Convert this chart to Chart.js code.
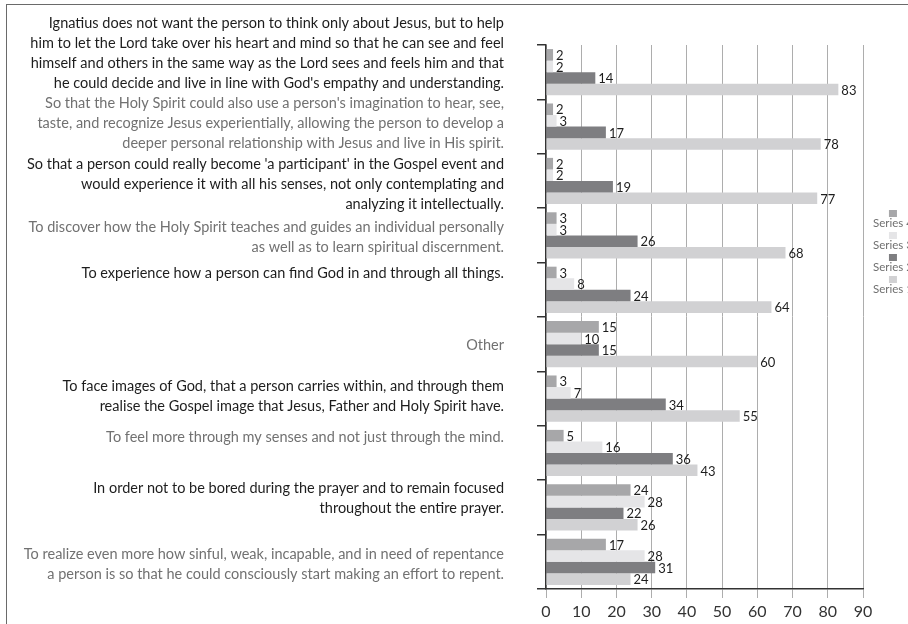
<!DOCTYPE html>
<html>
<head>
<meta charset="utf-8">
<script src="https://cdn.jsdelivr.net/npm/chart.js@4.4.1/dist/chart.umd.min.js"></script>
<style>
  html, body { margin: 0; padding: 0; background: #fff; overflow: hidden; }
  #frame { position: absolute; left: 6px; top: 4px; width: 1000px; height: 1000px; border: 1.5px solid #6a6a6a; }
  #wrap { position: absolute; left: 0; top: 0; width: 908px; height: 624px; }
</style>
</head>
<body>
<div id="frame"></div>
<div id="wrap"><canvas id="bars" width="908" height="624"></canvas></div>
<script>
// answers, one entry per category, already split into lines
const categories = [
  ["Ignatius does not want the person to think only about Jesus, but to help",
   "him to let the Lord take over his heart and mind so that he can see and feel",
   "himself and others in the same way as the Lord sees and feels him and that",
   "he could decide and live in line with God's empathy and understanding."],
  ["So that the Holy Spirit could also use a person's imagination to hear, see,",
   "taste, and recognize Jesus experientially, allowing the person to develop a",
   "deeper personal relationship with Jesus and live in His spirit."],
  ["So that a person could really become 'a participant' in the Gospel event and",
   "would experience it with all his senses, not only contemplating and",
   "analyzing it intellectually."],
  ["To discover how the Holy Spirit teaches and guides an individual personally",
   "as well as to learn spiritual discernment."],
  ["To experience how a person can find God in and through all things."],
  ["Other"],
  ["To face images of God, that a person carries within, and through them",
   "realise the Gospel image that Jesus, Father and Holy Spirit have."],
  ["To feel more through my senses and not just through the mind."],
  ["In order not to be bored during the prayer and to remain focused",
   "throughout the entire prayer."],
  ["To realize even more how sinful, weak, incapable, and in need of repentance",
   "a person is so that he could consciously start making an effort to repent."]
];

const series4 = [2, 2, 2, 3, 3, 15, 3, 5, 24, 17];
const series3 = [2, 3, 2, 3, 8, 10, 7, 16, 28, 28];
const series2 = [14, 17, 19, 26, 24, 15, 34, 36, 22, 31];
const series1 = [83, 78, 77, 68, 64, 60, 55, 43, 26, 24];

const xTicks = [0, 10, 20, 30, 40, 50, 60, 70, 80, 90];

// small vertical nudges for the wrapped category texts
const labelShift = [-19, -3, 3, 2, -16, 1, -2, -16, -9, 3];

const FONT = 'Lato, "Liberation Sans", sans-serif';

const sideText = {
  id: 'sideText',
  afterDraw(chart) {
    const ctx = chart.ctx;
    const area = chart.chartArea;
    const yScale = chart.scales.y;

    // category texts on the left, right aligned
    ctx.save();
    ctx.font = '14.5px ' + FONT;
    ctx.textAlign = 'right';
    ctx.textBaseline = 'middle';
    const gap = 20;
    categories.forEach((lines, i) => {
      const mid = yScale.getPixelForValue(i) + labelShift[i];
      const top = mid - (lines.length - 1) * gap / 2;
      ctx.fillStyle = i % 2 ? '#717171' : '#1d1d1d';
      lines.forEach((t, k) => ctx.fillText(t, area.left - 42, top + k * gap));
    });
    ctx.restore();

    // values at the end of each bar
    ctx.save();
    ctx.font = '13px ' + FONT;
    ctx.fillStyle = '#1d1d1d';
    ctx.textAlign = 'left';
    ctx.textBaseline = 'middle';
    chart.data.datasets.forEach((ds, di) => {
      chart.getDatasetMeta(di).data.forEach((bar, i) => {
        ctx.fillText(ds.data[i], bar.x + 3, bar.y + 1);
      });
    });
    ctx.restore();

    // legend: swatch above its name
    ctx.save();
    ctx.font = '11.5px ' + FONT;
    ctx.textAlign = 'left';
    ctx.textBaseline = 'middle';
    chart.data.datasets.forEach((ds, di) => {
      const y = 213 + di * 22;
      const w = ctx.measureText(ds.label).width;
      const cx = area.right + 10 + w / 2;
      ctx.fillStyle = ds.backgroundColor;
      ctx.fillRect(cx - 4, y - 3, 8, 7);
      ctx.fillStyle = '#707070';
      ctx.fillText(ds.label, area.right + 10, y + 10);
    });
    ctx.restore();
  }
};

const common = { categoryPercentage: 0.85, barPercentage: 1.0 };

new Chart(document.getElementById('bars'), {
  type: 'bar',
  data: {
    labels: categories.map(l => l.join(' ')),
    datasets: [
      { label: 'Series 4', data: series4, backgroundColor: '#a7a7a9', ...common },
      { label: 'Series 3', data: series3, backgroundColor: '#e5e5e7', ...common },
      { label: 'Series 2', data: series2, backgroundColor: '#7e7e81', ...common },
      { label: 'Series 1', data: series1, backgroundColor: '#d1d1d3', ...common }
    ]
  },
  options: {
    indexAxis: 'y',
    responsive: false,
    animation: false,
    devicePixelRatio: 1,
    layout: { padding: { top: 45, right: 45, left: 0, bottom: 0 } },
    scales: {
      x: {
        min: 0,
        max: 90,
        afterBuildTicks: s => { s.ticks = xTicks.map(v => ({ value: v })); },
        afterFit: s => { s.height = 35; },
        grid: { color: '#adadad', lineWidth: 1, tickLength: 9 },
        border: { color: '#333', width: 1.5 },
        ticks: { color: '#333', font: { family: FONT, size: 16 }, padding: 4 }
      },
      y: {
        afterFit: s => { s.width = 546; },
        grid: { offset: true, drawOnChartArea: false, color: '#333', lineWidth: 1.5, tickLength: 9 },
        border: { color: '#333', width: 1.5 },
        ticks: { display: false }
      }
    },
    plugins: {
      legend: { display: false },
      tooltip: { enabled: false }
    }
  },
  plugins: [sideText]
});
</script>
</body>
</html>
